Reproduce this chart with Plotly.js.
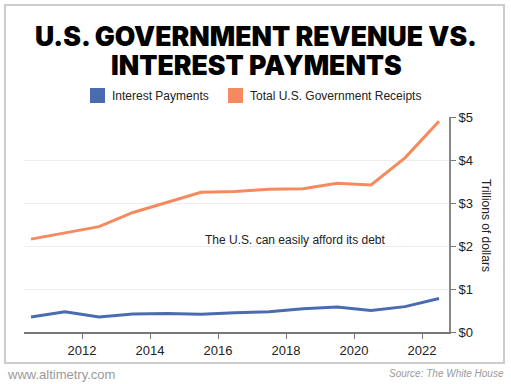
<!DOCTYPE html>
<html>
<head>
<meta charset="utf-8">
<script src="https://cdn.plot.ly/plotly-3.0.1.min.js"></script>
<style>
html,body{margin:0;padding:0;background:#fff;}
#chart{width:511px;height:384px;}
</style>
</head>
<body>
<div id="chart"></div>
<script>
// Fiscal years (plotted at mid-year)
const years = [2010.5, 2011.5, 2012.5, 2013.5, 2014.5, 2015.5, 2016.5, 2017.5, 2018.5, 2019.5, 2020.5, 2021.5, 2022.5];
// Trillions of dollars
const interestPayments = [0.35, 0.47, 0.35, 0.42, 0.43, 0.41, 0.45, 0.47, 0.54, 0.58, 0.50, 0.59, 0.78];
const totalReceipts = [2.16, 2.30, 2.45, 2.78, 3.02, 3.25, 3.27, 3.32, 3.33, 3.46, 3.42, 4.05, 4.90];
const seriesNames = ['Interest Payments', 'Total U.S. Government Receipts'];
const titleLines = ['U.S. GOVERNMENT REVENUE VS.', 'INTEREST PAYMENTS'];
const xTickVals = [2012, 2014, 2016, 2018, 2020, 2022];
const yTickVals = [0, 1, 2, 3, 4, 5];

const BLUE = '#4a6cae';
const ORANGE = '#f48a5e';

const W = 511, H = 384;
const M = {l: 24, r: 62, t: 117, b: 52};
const PW = W - M.l - M.r, PH = H - M.t - M.b;
const px = x => (x - M.l) / PW;
const py = y => (H - M.b - y) / PH;

const traces = [
  {x: years, y: interestPayments, name: seriesNames[0], type: 'scatter', mode: 'lines',
   line: {color: BLUE, width: 3}, showlegend: false, hoverinfo: 'x+y'},
  {x: years, y: totalReceipts, name: seriesNames[1], type: 'scatter', mode: 'lines',
   line: {color: ORANGE, width: 3}, showlegend: false, hoverinfo: 'x+y'}
];

const tickFont = {family: 'Liberation Sans, Arial, sans-serif', size: 13, color: '#222'};
const textFont = {family: 'Liberation Sans, Arial, sans-serif', size: 12, color: '#222'};
const titleFont = {family: 'Inter, Roboto, Arial, sans-serif', weight: 900, size: 26.6, color: '#000'};

const layout = {
  width: W, height: H,
  margin: M,
  paper_bgcolor: '#fff', plot_bgcolor: '#fff',
  showlegend: false,
  xaxis: {
    range: [2010.294, 2022.794],
    tickvals: xTickVals, ticktext: xTickVals.map(String),
    ticks: 'outside', ticklen: 5, tickwidth: 1, tickcolor: '#777',
    showline: true, linecolor: '#777', linewidth: 2,
    showgrid: false, zeroline: false,
    tickfont: tickFont
  },
  yaxis: {
    range: [0, 5], side: 'right',
    tickvals: yTickVals, ticktext: yTickVals.map(v => '$' + v),
    ticks: 'outside', ticklen: 5, tickwidth: 1, tickcolor: '#777',
    showline: true, linecolor: '#888', linewidth: 2,
    showgrid: true, gridcolor: '#eeeeee', gridwidth: 1,
    zeroline: false,
    tickfont: tickFont
  },
  shapes: [
    {type: 'rect', xref: 'paper', yref: 'paper', x0: px(5), x1: px(504), y0: py(363), y1: py(5),
     line: {color: '#cccccc', width: 2}, fillcolor: 'rgba(0,0,0,0)', layer: 'below'},
    {type: 'rect', xref: 'paper', yref: 'paper', x0: px(90), x1: px(105), y0: py(103), y1: py(88),
     line: {width: 0}, fillcolor: BLUE},
    {type: 'rect', xref: 'paper', yref: 'paper', x0: px(228), x1: px(243), y0: py(103), y1: py(88),
     line: {width: 0}, fillcolor: ORANGE}
  ],
  annotations: [
    {text: titleLines[0], xref: 'paper', yref: 'paper', x: px(256), y: py(36),
     xanchor: 'center', yanchor: 'middle', showarrow: false, font: titleFont},
    {text: titleLines[1], xref: 'paper', yref: 'paper', x: px(256), y: py(64.5),
     xanchor: 'center', yanchor: 'middle', showarrow: false, font: titleFont},
    {text: seriesNames[0], xref: 'paper', yref: 'paper', x: px(110), y: py(96),
     xanchor: 'left', yanchor: 'middle', showarrow: false, font: textFont},
    {text: seriesNames[1], xref: 'paper', yref: 'paper', x: px(248), y: py(96),
     xanchor: 'left', yanchor: 'middle', showarrow: false, font: textFont},
    {text: 'Trillions of dollars', xref: 'paper', yref: 'paper', x: px(486), y: py(225),
     xanchor: 'center', yanchor: 'middle', textangle: 90, showarrow: false, font: textFont},
    {text: 'The U.S. can easily afford its debt', xref: 'x', yref: 'y', x: 2018.29, y: 2.13,
     xanchor: 'center', yanchor: 'middle', showarrow: false, font: textFont},
    {text: 'www.altimetry.com', xref: 'paper', yref: 'paper', x: px(5), y: py(374),
     xanchor: 'left', yanchor: 'middle', showarrow: false,
     font: {family: 'Liberation Sans, Arial, sans-serif', size: 13, color: '#9a9a9a'}},
    {text: '<i>Source: The White House</i>', xref: 'paper', yref: 'paper', x: px(506), y: py(373),
     xanchor: 'right', yanchor: 'middle', showarrow: false,
     font: {family: 'Liberation Sans, Arial, sans-serif', size: 10, color: '#9a9a9a'}}
  ]
};

Plotly.newPlot('chart', traces, layout, {displayModeBar: false, responsive: false});
</script>
</body>
</html>
